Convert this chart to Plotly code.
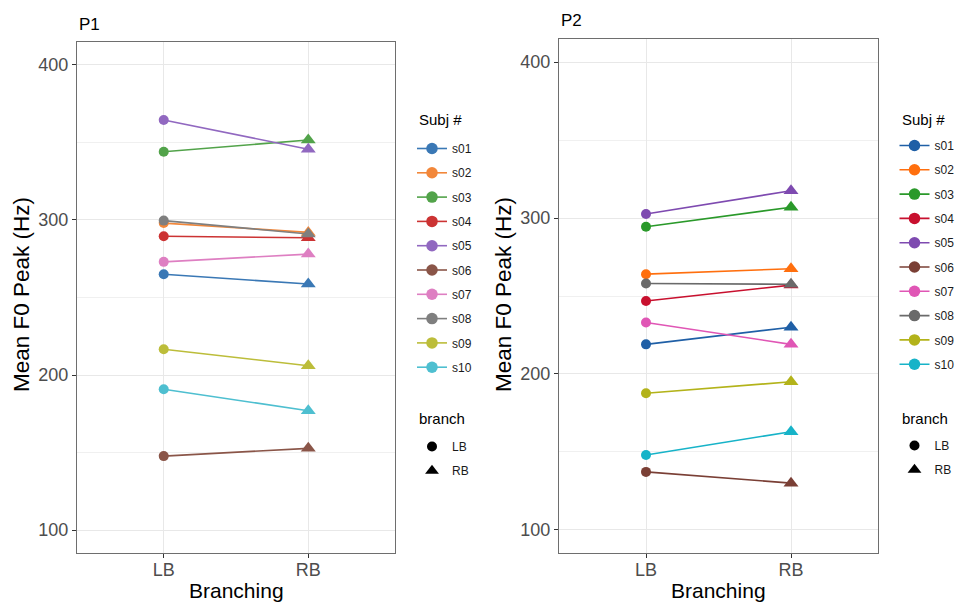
import plotly.graph_objects as go

subjects = ["s01", "s02", "s03", "s04", "s05", "s06", "s07", "s08", "s09", "s10"]
branches = ["LB", "RB"]

p1_lb = [265, 298, 344, 289.5, 364.5, 147.7, 273, 299.6, 216.6, 190.8]
p1_rb = [258.7, 292, 351.6, 288.5, 345.6, 152.7, 278, 291, 206, 177]

p2_lb = [219, 264, 294.4, 246.8, 302.6, 137.2, 233, 258, 187.6, 148]
p2_rb = [230, 267.5, 306.9, 257, 317.5, 130, 219, 257.5, 195, 163]

colors_p1 = ["#3A78B5", "#F2873A", "#52A34A", "#CC3333", "#9168C0",
             "#8A5548", "#DE7FC2", "#7F7F7F", "#BCBD3A", "#4EBFD0"]
colors_p2 = ["#1F5FA6", "#FF6F0E", "#2A992A", "#C8102E", "#7E4AB0",
             "#7A3F35", "#E056B5", "#6A6A6A", "#B3B31A", "#17B3C8"]

W, H = 956, 603
FONT = "Liberation Sans, Arial, sans-serif"

fig = go.Figure()

panels = [
    dict(lb=p1_lb, rb=p1_rb, colors=colors_p1, xa="x", ya="y",
         leg_s="legend", leg_b="legend2", grp="p1"),
    dict(lb=p2_lb, rb=p2_rb, colors=colors_p2, xa="x2", ya="y2",
         leg_s="legend3", leg_b="legend4", grp="p2"),
]

for p in panels:
    for i, s in enumerate(subjects):
        fig.add_trace(go.Scatter(
            x=branches, y=[p["lb"][i], p["rb"][i]],
            mode="lines+markers", name=s,
            line=dict(color=p["colors"][i], width=1.6),
            marker=dict(color=p["colors"][i], size=[10, 13], opacity=1,
                        symbol=["circle", "triangle-up"], line=dict(width=0)),
            xaxis=p["xa"], yaxis=p["ya"], legend=p["leg_s"],
            legendgroup=p["grp"] + s,
        ))
    for b, sym in zip(branches, ["circle", "triangle-up"]):
        fig.add_trace(go.Scatter(
            x=[None], y=[None], mode="markers", name=b,
            marker=dict(color="black", size=10 if sym == "circle" else 12,
                        symbol=sym, opacity=1),
            xaxis=p["xa"], yaxis=p["ya"], legend=p["leg_b"],
            legendgroup=p["grp"] + b,
        ))

def px_x(v):
    return v / W

def px_y(v):
    return 1 - v / H

axis_common = dict(
    showline=True, mirror=True, linecolor="#6E6E6E", linewidth=1,
    showgrid=True, gridcolor="#E8E8E8", gridwidth=1,
    ticks="outside", ticklen=4, tickcolor="#333333", tickwidth=1,
    tickfont=dict(family=FONT, size=18, color="#4D4D4D"),
    zeroline=False,
)

yaxis_common = dict(axis_common, range=[85.2, 414.8], tickvals=[100, 200, 300, 400],
                    minor=dict(tickvals=[150, 250, 350], showgrid=True,
                               gridcolor="#F0F0F0", gridwidth=1, ticks=""))
xaxis_common = dict(axis_common, type="category", categoryorder="array",
                    categoryarray=branches, range=[-0.6, 1.6], ticklabelstandoff=-4)

fig.update_layout(
    width=W, height=H,
    margin=dict(l=0, r=0, t=0, b=0, autoexpand=False),
    paper_bgcolor="white", plot_bgcolor="white",
    font=dict(family=FONT, color="black"),
    xaxis=dict(xaxis_common, domain=[px_x(77), px_x(395)], anchor="y"),
    yaxis=dict(yaxis_common, domain=[px_y(553), px_y(42)], anchor="x"),
    xaxis2=dict(xaxis_common, domain=[px_x(559), px_x(878)], anchor="y2"),
    yaxis2=dict(yaxis_common, domain=[px_y(553), px_y(39)], anchor="x2"),
)

leg_common = dict(xanchor="left", yanchor="top", bgcolor="rgba(0,0,0,0)",
                  borderwidth=0, itemwidth=30, tracegroupgap=5.3,
                  font=dict(family=FONT, size=12, color="#1A1A1A"),
                  itemclick=False, itemdoubleclick=False)
title_font = dict(family=FONT, size=15, color="black")

fig.update_layout(
    legend=dict(leg_common, x=px_x(412), y=px_y(134)),
    legend2=dict(leg_common, x=px_x(412), y=px_y(432)),
    legend3=dict(leg_common, x=px_x(894.5), y=px_y(131)),
    legend4=dict(leg_common, x=px_x(894.5), y=px_y(431)),
)

ann = []
for title, x0, yc in [("P1", 77, 24), ("P2", 559, 21)]:
    ann.append(dict(text=title, x=px_x(x0), y=px_y(yc), xref="paper", yref="paper",
                    xanchor="left", yanchor="middle", showarrow=False,
                    font=dict(family=FONT, size=17, color="black")))
for text, x0, yc in [("Subj #", 417, 120), ("branch", 417, 419),
                     ("Subj #", 900, 119), ("branch", 900, 418)]:
    ann.append(dict(text=text, x=px_x(x0), y=px_y(yc), xref="paper", yref="paper",
                    xanchor="left", yanchor="middle", showarrow=False,
                    font=title_font))
for xc, yt in [(21, 295), (503, 295)]:
    ann.append(dict(text="Mean F0 Peak (Hz)", x=px_x(xc), y=px_y(yt), xref="paper", yref="paper",
                    xanchor="center", yanchor="middle", textangle=-90, showarrow=False,
                    font=dict(family=FONT, size=22.5, color="black")))
for xc in [236, 718]:
    ann.append(dict(text="Branching", x=px_x(xc), y=px_y(590), xref="paper", yref="paper",
                    xanchor="center", yanchor="middle", showarrow=False,
                    font=dict(family=FONT, size=21, color="black")))
fig.update_layout(annotations=ann)

fig.write_html("out.html")
